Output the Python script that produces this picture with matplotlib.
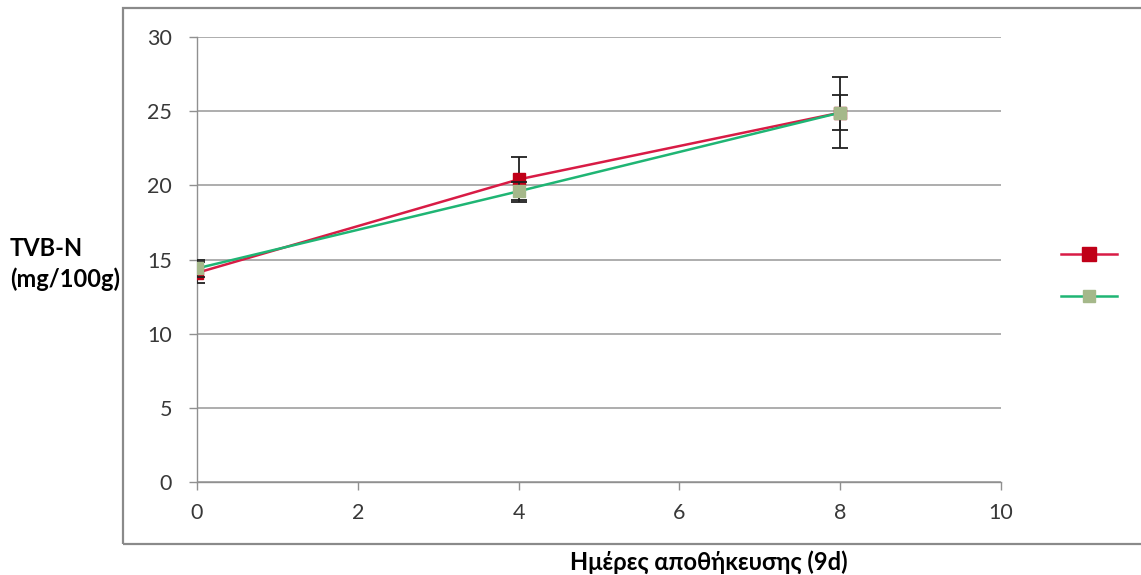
import matplotlib
matplotlib.use("Agg")
import matplotlib.pyplot as plt
from matplotlib.patches import Rectangle
from matplotlib.lines import Line2D

days = [0, 4, 8]
red_vals = [14.1, 20.4, 24.9]
red_err = [0.7, 1.5, 2.4]
green_vals = [14.4, 19.6, 24.9]
green_err = [0.6, 0.6, 1.2]
yticks = [0, 5, 10, 15, 20, 25, 30]
xticks = [0, 2, 4, 6, 8, 10]

plt.rcParams['font.family'] = ['Lato', 'DejaVu Sans']

fig = plt.figure(figsize=(11.41, 5.75), dpi=100)
W, H = 1141, 575
ax = fig.add_axes([197 / W, 1 - 482 / H, (1001 - 197) / W, (482 - 37) / H])

# outer frame
fig.patches.append(Rectangle((123 / W, 1 - 544 / H), 1.2, (544 - 8) / H,
                             transform=fig.transFigure, fill=False,
                             edgecolor='#8a8a8a', linewidth=1.6, zorder=0))

ax.set_xlim(0, 10)
ax.set_ylim(0, 30)
ax.set_xticks(xticks)
ax.set_yticks(yticks)
ax.yaxis.grid(True, color='#a0a0a0', linewidth=1.2)
ax.set_axisbelow(True)
for s in ['top', 'right']:
    ax.spines[s].set_visible(False)
for s in ['left', 'bottom']:
    ax.spines[s].set_color('#909090')
    ax.spines[s].set_linewidth(1.0)
ax.tick_params(axis='both', colors='#909090', length=6, width=1,
               labelcolor='#383838', labelsize=15.5)
ax.tick_params(axis='y', pad=12)
ax.tick_params(axis='x', pad=9)

ax.errorbar(days, red_vals, yerr=red_err, color='#d81b45', lw=1.8,
            marker='s', markersize=9, markerfacecolor='#c00018',
            markeredgecolor='#c00018', ecolor='#202020', elinewidth=1.3,
            capsize=6, capthick=1.3, zorder=3)
ax.errorbar(days, green_vals, yerr=green_err, color='#1fb574', lw=1.8,
            marker='s', markersize=8, markerfacecolor='#a5b88a',
            markeredgecolor='#a5b88a', ecolor='#202020', elinewidth=1.3,
            capsize=6, capthick=1.3, zorder=4)

handles = [Line2D([0], [0], color='#d81b45', lw=1.8, marker='s', markersize=10,
                  markerfacecolor='#c00018', markeredgecolor='#c00018'),
           Line2D([0], [0], color='#1fb574', lw=1.8, marker='s', markersize=8,
                  markerfacecolor='#a5b88a', markeredgecolor='#a5b88a')]
fig.legend(handles, ['', ''], loc='center', bbox_to_anchor=(1089 / W, 1 - 276 / H),
           frameon=False, handlelength=4.0, handletextpad=0, labelspacing=2.2,
           borderpad=0, fontsize=10)

fig.text(10 / W, 1 - 264 / H, 'TVB-N\n(mg/100g)', ha='left', va='center',
         fontsize=17, fontweight='bold', linespacing=1.4)
fig.text(709 / W, 1 - 562 / H, 'Ημέρες αποθήκευσης (9d)', ha='center', va='center',
         fontsize=17, fontweight='bold')

fig.savefig('out.png', dpi=100)
